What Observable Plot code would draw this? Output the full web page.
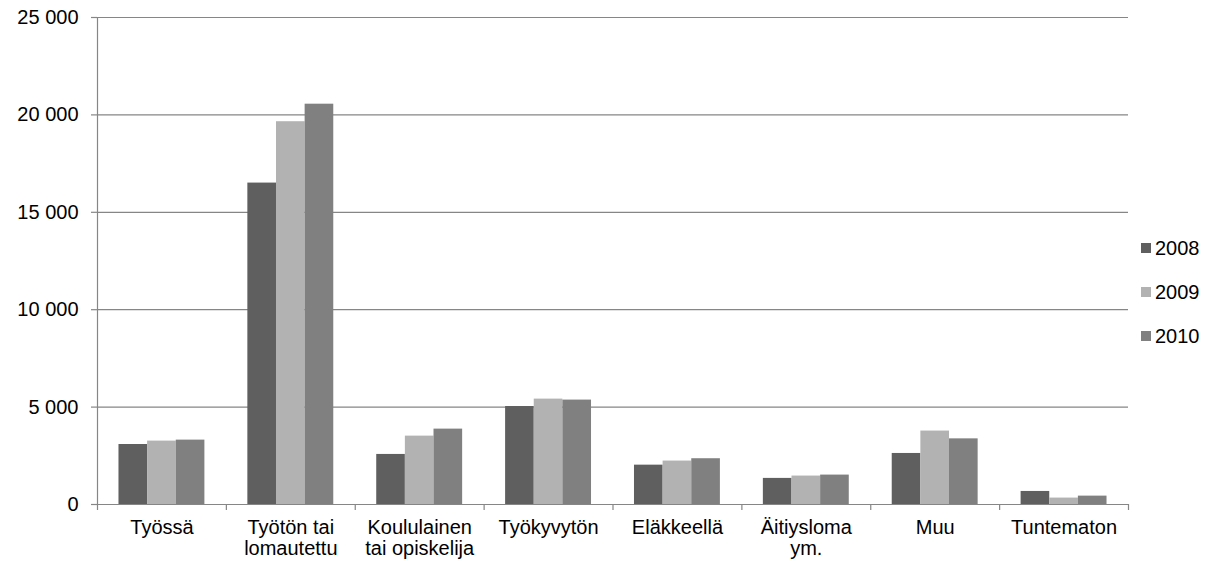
<!DOCTYPE html>
<html>
<head>
<meta charset="utf-8">
<script src="https://cdn.jsdelivr.net/npm/d3@7"></script>
<script src="https://cdn.jsdelivr.net/npm/@observablehq/plot@0.6"></script>
<style>
  body { margin: 0; background: #fff; }
  #wrap { position: relative; width: 1225px; height: 563px; font-family: "Liberation Sans", Arial, sans-serif; }
  #legend { position: absolute; left: 1141px; top: 236px; font-size: 20px; color: #000; font-family: "Liberation Sans", Arial, sans-serif; }
  .item { display: flex; align-items: center; height: 24px; margin-bottom: 20px; }
  .sw { width: 10px; height: 10px; margin-right: 4px; }
</style>
</head>
<body>
<div id="wrap"></div>
<script>
const categories = ["Työssä", "Työtön tai\nlomautettu", "Koululainen\ntai opiskelija", "Työkyvytön", "Eläkkeellä", "Äitiysloma\nym.", "Muu", "Tuntematon"];
const years = ["2008", "2009", "2010"];
const v2008 = [3080, 16500, 2570, 5030, 2020, 1340, 2620, 670];
const v2009 = [3255, 19650, 3510, 5410, 2230, 1460, 3770, 330];
const v2010 = [3305, 20550, 3870, 5360, 2350, 1510, 3370, 430];
const yTicks = [0, 5000, 10000, 15000, 20000, 25000];
const colors = ["#5f5f5f", "#b2b2b2", "#808080"];

const series = [v2008, v2009, v2010];
const groupFrac = 2 / 3;
const barW = groupFrac / years.length;
const rows = [];
categories.forEach((c, ci) => {
  years.forEach((yr, yi) => {
    const x1 = ci + (1 - groupFrac) / 2 + yi * barW;
    rows.push({cat: c, year: yr, value: series[yi][ci], x1, x2: x1 + barW});
  });
});

const fmt = d => d3.format(",")(d).replace(/,/g, " ");

const chart = Plot.plot({
  width: 1225,
  height: 563,
  marginLeft: 97,
  marginRight: 97,
  marginTop: 17,
  marginBottom: 59,
  style: {fontFamily: "'Liberation Sans', Arial, sans-serif", fontSize: "20px", color: "#000", background: "#fff"},
  x: {type: "linear", domain: [0, categories.length], axis: null},
  y: {domain: [0, 25000], axis: null},
  color: {domain: years, range: colors},
  marks: [
    Plot.ruleY(yTicks, {x1: 0, x2: categories.length, stroke: "#868686", strokeWidth: 1.2}),
    Plot.axisY({ticks: yTicks, label: null, tickSize: 6, tickPadding: 13, tickFormat: fmt, stroke: "#868686", strokeWidth: 1.2, strokeOpacity: 1, fill: "#000", fontSize: 20, fontFamily: "'Liberation Sans', Arial, sans-serif"}),
    Plot.ruleX([0], {y1: 0, y2: 25000, stroke: "#868686", strokeWidth: 1.2}),
    Plot.rectY(rows, {x1: "x1", x2: "x2", y1: 0, y2: "value", fill: "year", inset: 0}),
    Plot.axisX({ticks: d3.range(categories.length + 1), label: null, tickSize: 6, tickFormat: () => "", stroke: "#868686", strokeWidth: 1.2, strokeOpacity: 1}),
    Plot.axisX({ticks: d3.range(categories.length).map(i => i + 0.5), label: null, tickSize: 0, tickPadding: 15, tickFormat: i => categories[Math.floor(i)], lineHeight: 1.05, fill: "#000", fontSize: 20, fontFamily: "'Liberation Sans', Arial, sans-serif"}),
    Plot.ruleY([0], {x1: 0, x2: categories.length, stroke: "#868686", strokeWidth: 1.2})
  ]
});

const wrap = document.getElementById("wrap");
wrap.appendChild(chart);
const legend = document.createElement("div");
legend.id = "legend";
years.forEach((yr, i) => {
  const item = document.createElement("div");
  item.className = "item";
  const sw = document.createElement("span");
  sw.className = "sw";
  sw.style.background = colors[i];
  const t = document.createElement("span");
  t.textContent = yr;
  item.appendChild(sw);
  item.appendChild(t);
  legend.appendChild(item);
});
wrap.appendChild(legend);
</script>
</body>
</html>
